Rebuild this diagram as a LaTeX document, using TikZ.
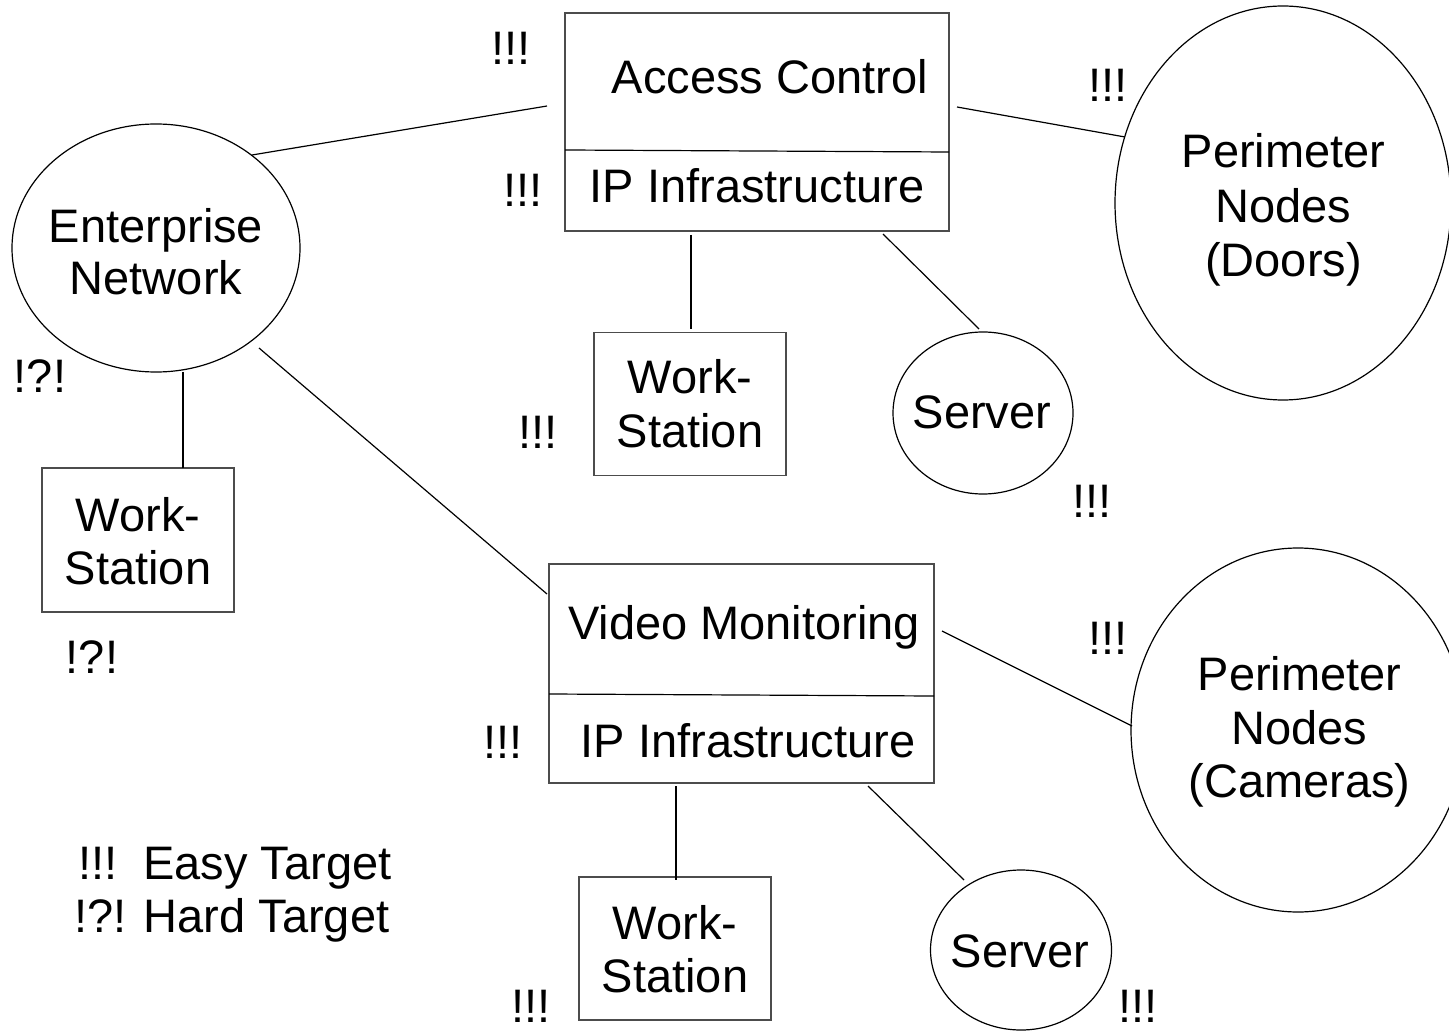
\documentclass[tikz,border=0pt]{standalone}
\usepackage{fontspec}
\setmainfont{Liberation Sans}
\usetikzlibrary{shapes.geometric}
\begin{document}
\begin{tikzpicture}[x=0.5pt,y=-0.5pt,
  every node/.style={font=\fontsize{23.5pt}{27pt}\selectfont, inner sep=0pt, outer sep=0pt},
  txt/.style={anchor=base},
  boxshape/.style={draw=black!70, line width=0.6pt, rectangle},
  ellshape/.style={draw=black, line width=0.6pt, ellipse},
  conn/.style={draw=black, line width=0.6pt},
  divider/.style={draw=black, line width=0.6pt}]
\useasboundingbox[fill=white] (0,0) rectangle (1449,1031);

% ---- shapes ----
\node[boxshape, minimum width=192pt, minimum height=109pt] (ac) at (757,122) {};
\draw[divider] (565,150) -- (949,152);
\node[boxshape, minimum width=192.5pt, minimum height=109.5pt] (vm) at (741.5,673.5) {};
\draw[divider] (549,694) -- (934,696);
\node[boxshape, minimum width=96pt, minimum height=71.5pt] (ws1) at (690,404) {};
\node[boxshape, minimum width=96pt, minimum height=72pt] (ws0) at (138,540) {};
\node[boxshape, minimum width=96pt, minimum height=71.5pt] (ws2) at (675,948.5) {};
\node[ellshape, minimum width=144pt, minimum height=124pt] (en) at (156,248) {};
\node[ellshape, minimum width=168pt, minimum height=197pt] (doors) at (1283,203) {};
\node[ellshape, minimum width=167pt, minimum height=182pt] (cams) at (1298,730) {};
\node[ellshape, minimum width=90pt, minimum height=81pt] (sv1) at (983,413) {};
\node[ellshape, minimum width=90.5pt, minimum height=80pt] (sv2) at (1021,950) {};

% ---- connector ends ----
\coordinate (en-ac) at (252,155);   \coordinate (ac-en) at (547,106);
\coordinate (ac-do) at (957,107);   \coordinate (do-ac) at (1125,137);
\coordinate (ac-w1) at (691,235);   \coordinate (w1-ac) at (691,329);
\coordinate (ac-s1) at (883,234);   \coordinate (s1-ac) at (979,329);
\coordinate (en-w0) at (183,372);   \coordinate (w0-en) at (183,468);
\coordinate (en-vm) at (259,348);   \coordinate (vm-en) at (547,594);
\coordinate (vm-ca) at (942,631);   \coordinate (ca-vm) at (1132,726);
\coordinate (vm-w2) at (676,786);   \coordinate (w2-vm) at (676,880);
\coordinate (vm-s2) at (868,786);   \coordinate (s2-vm) at (964,880);

\draw[conn] (en-ac) -- (ac-en);
\draw[conn] (ac-do) -- (do-ac);
\draw[conn] (ac-w1) -- (w1-ac);
\draw[conn] (ac-s1) -- (s1-ac);
\draw[conn] (en-w0) -- (w0-en);
\draw[conn] (en-vm) -- (vm-en);
\draw[conn] (vm-ca) -- (ca-vm);
\draw[conn] (vm-w2) -- (w2-vm);
\draw[conn] (vm-s2) -- (s2-vm);

% ---- texts ----
\node[txt] (t-ac) at (770,94) {Access Control};
\node[txt] (t-ip1) at (757,203) {IP Infrastructure};
\node[txt] (t-vm) at (744,639) {Video Monitoring};
\node[txt] (t-ip2) at (748,757) {IP Infrastructure};
\node[txt] (t-en1) at (156,243) {Enterprise};
\node[txt] (t-en2) at (156,295) {Network};
\node[txt] (t-do1) at (1283.5,168) {Perimeter};
\node[txt] (t-do2) at (1283.5,223) {Nodes};
\node[txt] (t-do3) at (1283.5,277) {(Doors)};
\node[txt] (t-ca1) at (1299.5,690) {Perimeter};
\node[txt] (t-ca2) at (1299.5,744) {Nodes};
\node[txt] (t-ca3) at (1299.5,797) {(Cameras)};
\node[txt] (t-w11) at (690,394) {Work-};
\node[txt] (t-w12) at (690,448) {Station};
\node[txt] (t-w01) at (138,531) {Work-};
\node[txt] (t-w02) at (138,584) {Station};
\node[txt] (t-w21) at (675,939) {Work-};
\node[txt] (t-w22) at (675,992) {Station};
\node[txt] (t-s1) at (982,429) {Server};
\node[txt] (t-s2) at (1020,967) {Server};

% ---- target marks ----
\node[txt] (m1) at (511,65) {!!!};
\node[txt] (m2) at (523,207) {!!!};
\node[txt] (m3) at (1108,102) {!!!};
\node[txt] (m4) at (40,393) {!?!};
\node[txt] (m5) at (538,449) {!!!};
\node[txt] (m6) at (1092,517) {!!!};
\node[txt] (m7) at (92,673) {!?!};
\node[txt] (m8) at (1108,654) {!!!};
\node[txt] (m9) at (503,758) {!!!};
\node[txt] (m10) at (531,1022) {!!!};
\node[txt] (m11) at (1138,1022) {!!!};

% ---- legend ----
\node[anchor=base west] (leg1) at (78,879) {!!!\ \ Easy Target};
\node[anchor=base west] (leg2) at (74,932) {!?! Hard Target};
\end{tikzpicture}
\end{document}
